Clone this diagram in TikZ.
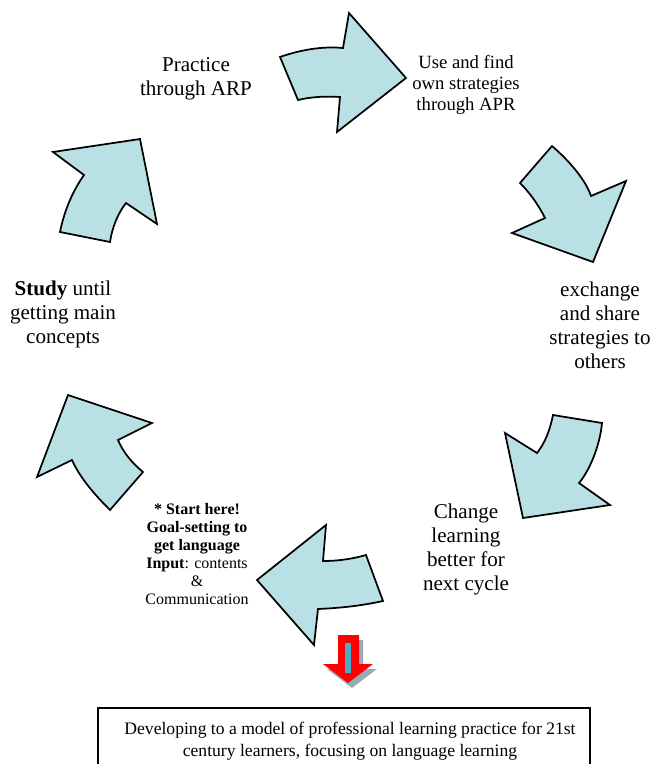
\documentclass[tikz,border=0pt]{standalone}
\usepackage{fontspec}
\setmainfont{Liberation Serif}
\definecolor{arrowfill}{RGB}{185,224,228}
\definecolor{shadowgray}{RGB}{150,172,182}
\definecolor{stripeblue}{RGB}{75,172,198}
\tikzset{
  cyclearrow/.style={draw=black, fill=arrowfill, line width=1.3pt, miter limit=4},
  lbl/.style={align=center, inner sep=0pt},
  bigtxt/.style={lbl, font=\fontsize{15.8}{18}\selectfont},
  midtxt/.style={lbl, font=\fontsize{14}{15.8}\selectfont},
  smalltxt/.style={lbl, font=\fontsize{12}{13.5}\selectfont},
  boxtxt/.style={lbl, font=\fontsize{13.2}{16.5}\selectfont}
}
\begin{document}
\begin{tikzpicture}[x=0.75pt,y=-0.75pt]
\useasboundingbox (0,0) rectangle (653,764);
\clip (0,0) rectangle (653,764);
% arrow 1 (top, right)
\draw[cyclearrow] (280,57) .. controls (300,50) and (322,46) .. (343,48) -- (349,13) -- (406,78) -- (337,132) -- (340,97) .. controls (325,96) and (310,97) .. (298,100) -- cycle;
% arrow 2 (upper right)
\draw[cyclearrow] (552,146) .. controls (566,158) and (585,178) .. (591,196) -- (626,181) -- (593,262) -- (512,233) -- (545,218) .. controls (540,208) and (532,195) .. (520,183) -- cycle;
% arrow 3 (lower right)
\draw[cyclearrow] (553,415) -- (602,423) .. controls (600,445) and (590,470) .. (579,483) -- (610,505) -- (523,518) -- (505,433) -- (537,453) .. controls (545,443) and (550,430) .. (553,415) -- cycle;
% arrow 4 (bottom, left)
\draw[cyclearrow] (326,525) -- (323,561) .. controls (338,561) and (352,559) .. (366,555) -- (383,601) .. controls (360,606) and (340,608) .. (318,609) -- (314,645) -- (257,580) -- cycle;
% arrow 5 (lower left)
\draw[cyclearrow] (68,395) -- (152,423) -- (118,440) .. controls (123,452) and (132,463) .. (143,472) -- (110,510) .. controls (95,495) and (80,478) .. (72,460) -- (37,477) -- cycle;
% arrow 6 (upper left)
\draw[cyclearrow] (53,152) -- (140,139) -- (157,224) -- (126,203) .. controls (118,213) and (112,228) .. (110,242) -- (60,232) .. controls (64,212) and (72,192) .. (84,175) -- cycle;
% red down arrow
\fill[shadowgray] (342,640) -- (363,640) -- (363,669) -- (377,669) -- (352,688) -- (327,669) -- (342,669) -- cycle;
\fill[red] (338,635) -- (359,635) -- (359,664) -- (373,664) -- (348,683) -- (323,664) -- (338,664) -- cycle;
\fill[stripeblue] (345,643) rectangle (351,673);
% texts
\node[bigtxt] (practice) at (196,79) {Practice\\through ARP};
\node[midtxt] (usefind) at (466,85) {Use and find\\own strategies\\through APR};
\node[bigtxt] (exchange) at (600,325) {exchange\\and share\\strategies to\\others};
\node[bigtxt] (study) at (63,314) {\textbf{Study} until\\getting main\\concepts};
\node[bigtxt] (change) at (466,549) {Change\\learning\\better for\\next cycle};
\node[smalltxt] (start) at (197,554) {\textbf{* Start here!}\\\textbf{Goal-setting to}\\\textbf{get language}\\\textbf{Input}: contents\\\&\\Communication};
\draw[line width=1pt] (98,708) rectangle (590,800);
\node[boxtxt] (goal) at (350,741) {Developing to a model of professional learning practice for 21st\\century learners, focusing on language learning};
\end{tikzpicture}
\end{document}
